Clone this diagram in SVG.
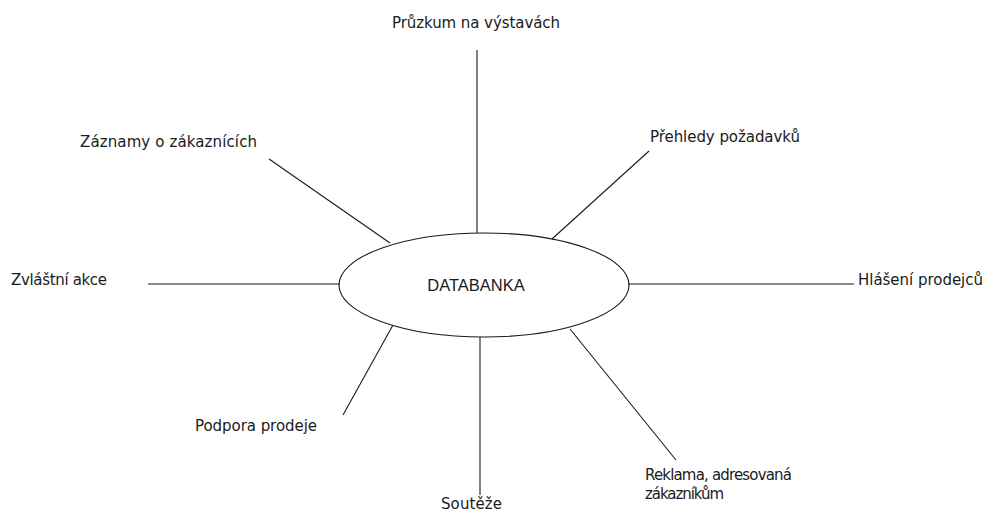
<svg xmlns="http://www.w3.org/2000/svg" width="984" height="514" viewBox="0 0 984 514">
<style>
.l{stroke:#1a1a1a;stroke-width:1.1;fill:none}
.t{font-family:"DejaVu Sans",sans-serif;font-size:15px;fill:#1a1a1a}
.c{font-family:"Liberation Sans",Arial,sans-serif;font-size:16.5px;fill:#1a1a1a}
</style>
<rect width="984" height="514" fill="#fff"/>
<g id="connectors">
<line class="l" x1="477" y1="50" x2="477" y2="233"/>
<line class="l" x1="269" y1="159" x2="390" y2="243"/>
<line class="l" x1="649" y1="151" x2="552" y2="239"/>
<line class="l" x1="148" y1="284" x2="340" y2="284"/>
<line class="l" x1="628" y1="284" x2="854" y2="284"/>
<line class="l" x1="393" y1="325" x2="343" y2="415"/>
<line class="l" x1="480" y1="337" x2="480" y2="495"/>
<line class="l" x1="570" y1="329" x2="676" y2="460"/>
</g>
<g id="databanka">
<ellipse class="l" cx="484" cy="285" rx="145" ry="52"/>
<text class="c" x="476" y="291" text-anchor="middle">DATABANKA</text>
</g>
<g id="pruzkum"><text class="t" x="392" y="28" textLength="168">Průzkum na výstavách</text></g>
<g id="zaznamy"><text class="t" x="80" y="147" textLength="177">Záznamy o zákaznících</text></g>
<g id="prehledy"><text class="t" x="650" y="142" textLength="150">Přehledy požadavků</text></g>
<g id="zvlastni"><text class="t" x="11" y="285" textLength="96">Zvláštní akce</text></g>
<g id="hlaseni"><text class="t" x="858" y="285" textLength="125">Hlášení prodejců</text></g>
<g id="podpora"><text class="t" x="195" y="431" textLength="122">Podpora prodeje</text></g>
<g id="souteze"><text class="t" x="441" y="509" textLength="61">Soutěže</text></g>
<g id="reklama"><text class="t" x="645" y="480" textLength="147">Reklama, adresovaná</text><text class="t" x="645" y="499" textLength="79">zákazníkům</text></g>
</svg>
